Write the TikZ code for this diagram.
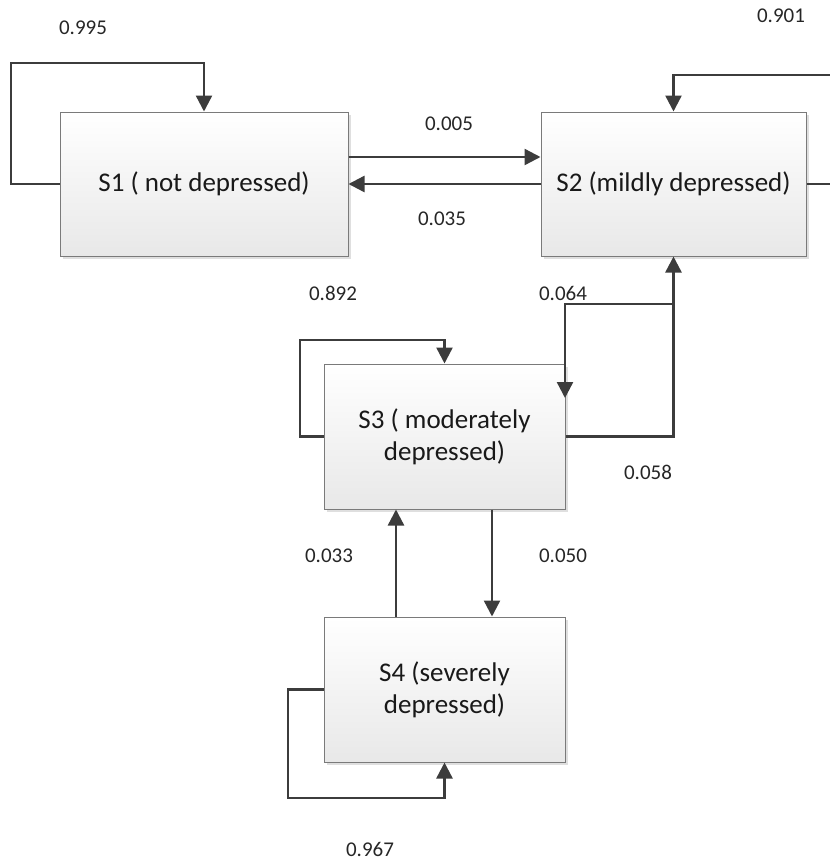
\documentclass[tikz,border=0pt]{standalone}
\usepackage{fontspec}
\setmainfont{Carlito}
\usetikzlibrary{arrows.meta,shadows}
\definecolor{linec}{HTML}{3C3C3C}
\definecolor{boxline}{HTML}{7A7A7A}
\tikzset{
  statebox/.style={draw=boxline, line width=1pt, top color=white, bottom color=black!9,
    drop shadow={shadow xshift=3pt, shadow yshift=-3pt, opacity=0.25},
    inner sep=0pt, align=center, font=\fontsize{27}{32}\selectfont, text=black!90},
  conn/.style={draw=linec, line width=2.4pt, -{Triangle[length=16pt,width=16pt]}},
  lab/.style={font=\fontsize{21}{24}\selectfont, text=black!85, inner sep=0pt}
}
\begin{document}
\begin{tikzpicture}[x=1pt,y=-1pt]
\useasboundingbox (0,0) rectangle (830,863);
\node[statebox, minimum width=288pt, minimum height=144pt] (s1) at (204,184) {S1 ( not depressed)};
\node[statebox, minimum width=265pt, minimum height=144pt] (s2) at (673.5,184) {S2 (mildly depressed)};
\node[statebox, minimum width=241pt, minimum height=145pt] (s3) at (444.5,436.5) {S3 ( moderately\\depressed)};
\node[statebox, minimum width=241pt, minimum height=145pt] (s4) at (444.5,689.5) {S4 (severely\\depressed)};

\coordinate (c1) at (11,63);
\coordinate (c2) at (834,75);
\coordinate (c3) at (300,340);
\coordinate (c4) at (288,798);
\coordinate (br) at (673.5,304);
\coordinate (t3) at (565,398);

\draw[conn] (s1.west) -| (c1) -| (s1.north);
\draw[conn] ([yshift=27pt]s1.east) -- ([yshift=27pt]s2.west);
\draw[conn] (s2.west) -- (s1.east);
\draw[conn] (s2.east) -| (c2) -| (s2.north);
\draw[conn] (s3.west) -| (c3) -| (s3.north);
\draw[conn] (s3.east) -| (s2.south);
\draw[conn] (br) -| (t3);
\draw[conn] ([xshift=-48.5pt]s4.north) -- ([xshift=-48.5pt]s3.south);
\draw[conn] ([xshift=47.5pt]s3.south) -- ([xshift=47.5pt]s4.north);
\draw[conn] (s4.west) -| (c4) -| (s4.south);

\node[lab] (l1) at (83,28) {0.995};
\node[lab] (l2) at (781,16) {0.901};
\node[lab] (l3) at (449,124) {0.005};
\node[lab] (l4) at (442,219) {0.035};
\node[lab] (l5) at (333,293) {0.892};
\node[lab] (l6) at (563,293) {0.064};
\node[lab] (l7) at (648,472) {0.058};
\node[lab] (l8) at (329,556) {0.033};
\node[lab] (l9) at (563,556) {0.050};
\node[lab] (l10) at (370,849) {0.967};
\end{tikzpicture}
\end{document}
